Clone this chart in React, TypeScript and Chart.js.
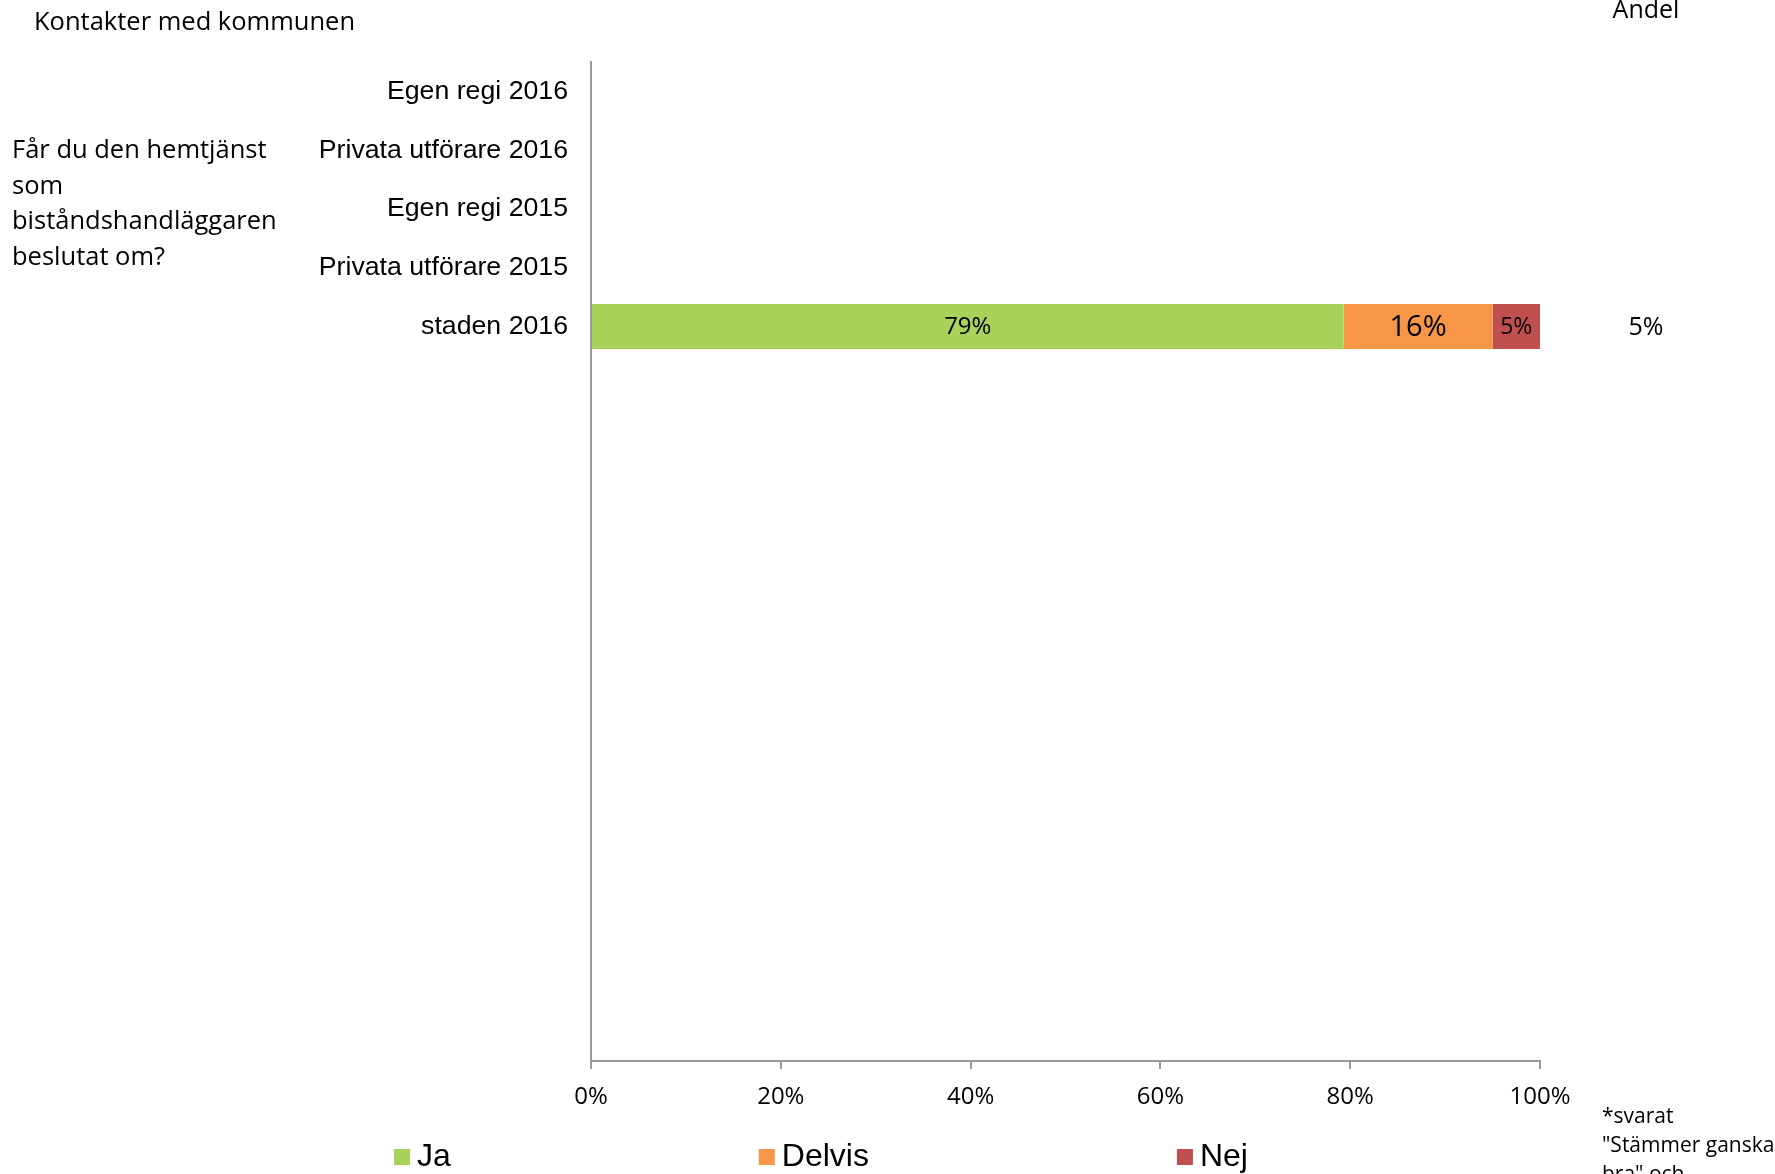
import React, { useEffect, useRef } from 'react';
import { Chart, registerables } from 'chart.js';

Chart.register(...registerables);

// ---- Data ----
const categories: string[] = [
  'Egen regi 2016',
  'Privata utförare 2016',
  'Egen regi 2015',
  'Privata utförare 2015',
  'staden 2016',
  '', '', '', '', '', '', '', '', '', '', '', '',
];
const jaValues: (number | null)[] = [null, null, null, null, 79.3];
const delvisValues: (number | null)[] = [null, null, null, null, 15.7];
const nejValues: (number | null)[] = [null, null, null, null, 5.0];
const andelValues: (number | null)[] = [null, null, null, null, 5];
const seriesNames: string[] = ['Ja', 'Delvis', 'Nej'];
const seriesColors: string[] = ['#A8D25A', '#F79646', '#C0504D'];
const xTickValues: number[] = [0, 20, 40, 60, 80, 100];

const titleText = 'Kontakter med kommunen';
const questionLines: string[] = ['Får du den hemtjänst', 'som', 'biståndshandläggaren', 'beslutat om?'];
const columnHeader = 'Andel';
const footnoteLines: string[] = ['*svarat', '"Stämmer ganska', 'bra" och'];

const CAL = '"Open Sans", "Noto Sans", sans-serif';
const ARIAL = '"Liberation Sans", Arial, sans-serif';
const labelSizes = [24, 29, 23];
const AXIS_COLOR = '#999999';

const barLabelPlugin = {
  id: 'barLabels',
  afterDatasetsDraw(chart: any) {
    const ctx = chart.ctx;
    ctx.save();
    ctx.textAlign = 'center';
    ctx.textBaseline = 'middle';
    ctx.fillStyle = '#000000';
    chart.data.datasets.forEach((ds: any, di: number) => {
      const meta = chart.getDatasetMeta(di);
      meta.data.forEach((el: any, i: number) => {
        const v = ds.data[i];
        if (v == null) return;
        const p = el.getProps(['x', 'base', 'y'], true);
        ctx.font = `${labelSizes[di]}px ${CAL}`;
        ctx.fillText(Math.round(v) + '%', (p.x + p.base) / 2, p.y + 1);
      });
    });
    const ys = chart.scales.y;
    ctx.font = `25px ${CAL}`;
    andelValues.forEach((v, i) => {
      if (v == null) return;
      ctx.fillText(v + '%', chart.chartArea.right + 106, ys.getPixelForValue(i) + 1);
    });
    ctx.restore();
  },
};

const legendPlugin = {
  id: 'customLegend',
  afterDraw(chart: any) {
    const ctx = chart.ctx;
    ctx.save();
    ctx.font = `32px ${ARIAL}`;
    ctx.textAlign = 'left';
    ctx.textBaseline = 'alphabetic';
    let x = 394;
    const boxTop = 1149;
    const box = 16;
    const gap = 308;
    chart.data.datasets.forEach((ds: any) => {
      ctx.fillStyle = ds.backgroundColor;
      ctx.fillRect(x, boxTop, box, box);
      ctx.fillStyle = '#000000';
      ctx.fillText(ds.label, x + box + 7, 1166);
      x += box + 7 + ctx.measureText(ds.label).width + gap;
    });
    ctx.restore();
  },
};

export default function App() {
  const canvasRef = useRef<HTMLCanvasElement | null>(null);

  useEffect(() => {
    if (!canvasRef.current) return;
    const seriesData = [jaValues, delvisValues, nejValues];
    const chart = new Chart(canvasRef.current, {
      type: 'bar',
      data: {
        labels: categories,
        datasets: seriesNames.map((name, i) => ({
          label: name,
          data: seriesData[i],
          backgroundColor: seriesColors[i],
          borderWidth: 0,
          barPercentage: 0.766,
          categoryPercentage: 1,
        })),
      },
      options: {
        indexAxis: 'y',
        responsive: false,
        animation: false,
        layout: { padding: { top: 62, right: 235, bottom: 0, left: 0 } },
        plugins: {
          legend: { display: false },
          title: { display: false },
          tooltip: { enabled: false },
        },
        scales: {
          x: {
            stacked: true,
            min: 0,
            max: 100,
            afterFit: (s: any) => { s.height = 113; },
            afterBuildTicks: (s: any) => { s.ticks = xTickValues.map((v) => ({ value: v })); },
            ticks: {
              callback: (v: any) => v + '%',
              color: '#000000',
              font: { family: CAL, size: 24 },
              padding: 14,
              maxRotation: 0,
              autoSkip: false,
            },
            grid: {
              drawOnChartArea: false,
              drawTicks: true,
              tickLength: 8,
              color: AXIS_COLOR,
              lineWidth: 2,
            },
            border: { display: true, color: AXIS_COLOR, width: 2 },
          },
          y: {
            stacked: true,
            afterFit: (s: any) => { s.width = 591; },
            ticks: {
              color: '#000000',
              font: { family: ARIAL, size: 26.7 },
              padding: 23,
              autoSkip: false,
            },
            grid: { display: false, drawTicks: false },
            border: { display: true, color: AXIS_COLOR, width: 2 },
          },
        },
      } as any,
      plugins: [barLabelPlugin, legendPlugin],
    });
    const fonts: any = (document as any).fonts;
    if (fonts && fonts.load) {
      Promise.all([
        fonts.load(`25px "Open Sans"`),
        fonts.load(`26px "Liberation Sans"`),
      ]).then(() => chart.update()).catch(() => {});
    }
    return () => chart.destroy();
  }, []);

  const textBase: React.CSSProperties = {
    position: 'absolute',
    fontFamily: CAL,
    color: '#000000',
    whiteSpace: 'nowrap',
    margin: 0,
  };

  return (
    <div style={{ position: 'absolute', left: 0, top: 0, width: 1775, height: 1174, overflow: 'hidden', background: '#ffffff' }}>
      <canvas ref={canvasRef} width={1775} height={1174} style={{ position: 'absolute', left: 0, top: 0, width: 1775, height: 1174 }} />
      <div style={{ ...textBase, left: 34, top: 3, fontSize: 25.5, lineHeight: '34px' }}>{titleText}</div>
      <div style={{ ...textBase, left: 12, top: 131, fontSize: 25.5, lineHeight: '35.5px' }}>
        {questionLines.map((l, i) => (<div key={i}>{l}</div>))}
      </div>
      <div style={{ ...textBase, left: 1546, width: 200, textAlign: 'center', top: -9.5, fontSize: 25, lineHeight: '34px' }}>{columnHeader}</div>
      <div style={{ ...textBase, left: 1602, top: 1101, fontSize: 21, lineHeight: '28.8px' }}>
        {footnoteLines.map((l, i) => (<div key={i}>{l}</div>))}
      </div>
    </div>
  );
}
